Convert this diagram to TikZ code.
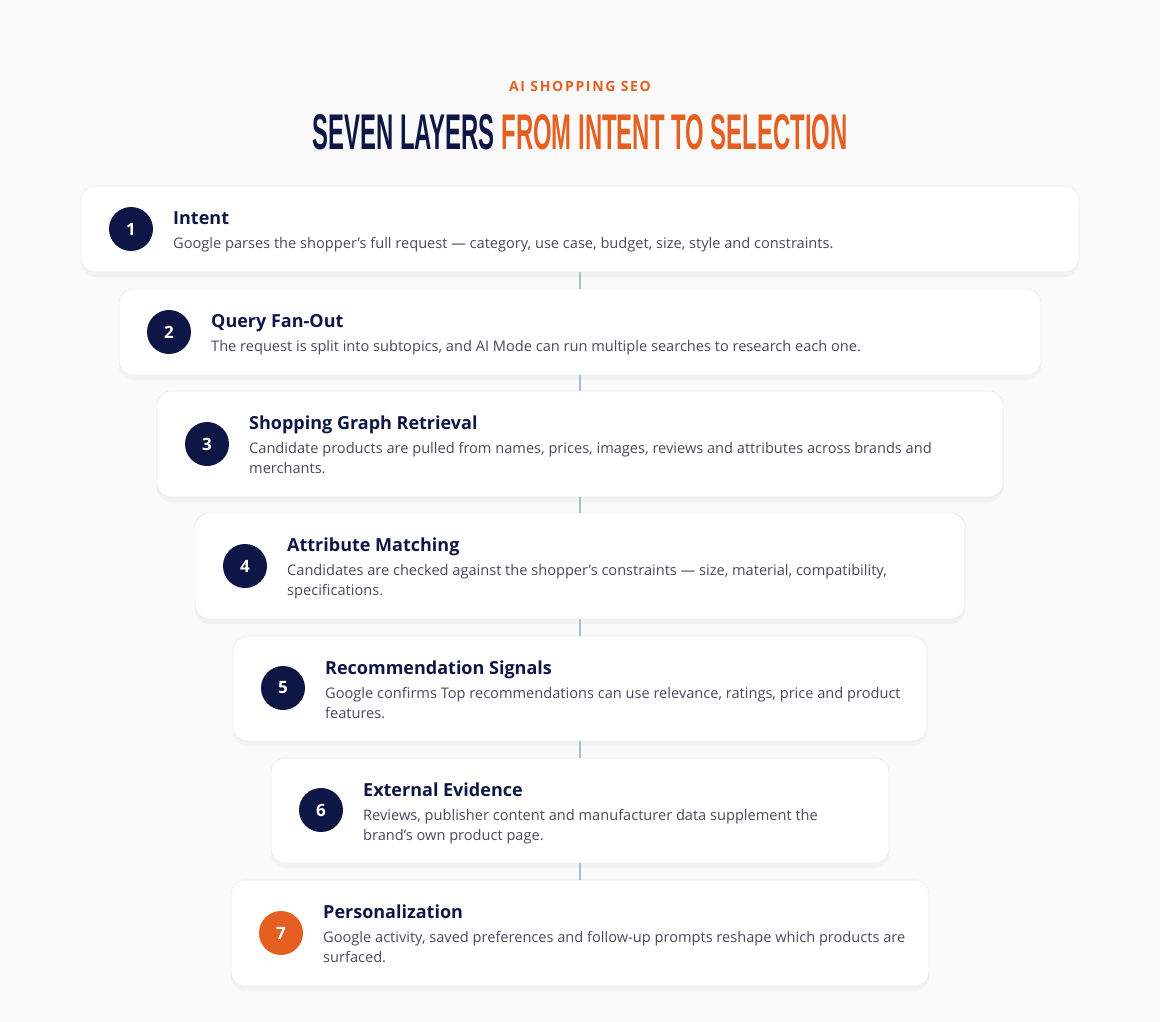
\documentclass[tikz,border=0pt]{standalone}
\usepackage{fontspec}
\setmainfont{Open Sans}
\newfontfamily\headfont{Liberation Sans}
\usepackage{graphicx}
\usetikzlibrary{positioning,shadows}
\definecolor{navy}{HTML}{0E1646}
\definecolor{rust}{HTML}{E55F21}
\definecolor{slate}{HTML}{464A5C}
\definecolor{linkblue}{HTML}{A8BCDA}
\definecolor{pagebg}{HTML}{FAFAFB}
\definecolor{rim}{HTML}{ECEDF1}

\begin{document}
\begin{tikzpicture}[x=1pt,y=-1pt]
\tikzstyle{card}=[rectangle, rounded corners=14pt, fill=white, draw=rim, line width=0.8pt, drop shadow={shadow xshift=0pt, shadow yshift=-5pt, opacity=0.05, fill=black!60}]
\tikzstyle{num}=[circle, minimum size=44pt, inner sep=0pt, fill=navy, text=white, font=\fontsize{17}{17}\selectfont\bfseries]
\tikzstyle{step title}=[anchor=base west, inner sep=0pt, text=navy, font=\fontsize{18}{18}\selectfont\bfseries]
\tikzstyle{desc}=[anchor=base west, inner sep=0pt, text=slate, align=left, font=\fontsize{14.6}{20}\selectfont]
\tikzstyle{connect}=[linkblue, line width=1.6pt]
\fill[pagebg] (0,0) rectangle (1160,1022);
\useasboundingbox (0,0) rectangle (1160,1022);
% heading
	\node[text=rust, font=\fontsize{14}{14}\selectfont\bfseries\addfontfeatures{LetterSpace=12}] (kicker) at (580,86) {AI SHOPPING SEO};
	\node[inner sep=0pt] (headline) at (580,132.5) {\resizebox{535pt}{35pt}{\headfont\bfseries\textcolor{navy}{SEVEN LAYERS} \textcolor{rust}{FROM INTENT TO SELECTION}}};
% cards
	\node[card, minimum width=998pt, minimum height=86pt] (card1) at (580,229) {};
	\node[card, minimum width=922pt, minimum height=86pt] (card2) at (580,332) {};
	\node[card, minimum width=846pt, minimum height=106pt] (card3) at (580,444) {};
	\node[card, minimum width=770pt, minimum height=106pt] (card4) at (580,566) {};
	\node[card, minimum width=694pt, minimum height=105pt] (card5) at (580,688.5) {};
	\node[card, minimum width=618pt, minimum height=105pt] (card6) at (580,810.5) {};
	\node[card, minimum width=698pt, minimum height=106pt] (card7) at (580,933) {};
% numbers
	\node[num] (n1) at (131,229) {1};
	\node[num] (n2) at (169,332) {2};
	\node[num] (n3) at (207,444) {3};
	\node[num] (n4) at (245,566) {4};
	\node[num] (n5) at (283,688) {5};
	\node[num] (n6) at (321,810) {6};
	\node[num, fill=rust] (n7) at (281,933) {7};
% texts (two-line descriptions sit on their last baseline)
	\node[step title] (t1) at (173,224) {Intent};
	\node[desc] (d1) at (173,248) {Google parses the shopper's full request --- category, use case, budget, size, style and constraints.};
	\node[step title] (t2) at (211,327) {Query Fan-Out};
	\node[desc] (d2) at (211,351) {The request is split into subtopics, and AI Mode can run multiple searches to research each one.};
	\node[step title] (t3) at (249,429) {Shopping Graph Retrieval};
	\node[desc] (d3) at (249,473) {Candidate products are pulled from names, prices, images, reviews and attributes across brands and\\merchants.};
	\node[step title] (t4) at (287,551) {Attribute Matching};
	\node[desc] (d4) at (287,595) {Candidates are checked against the shopper's constraints --- size, material, compatibility,\\specifications.};
	\node[step title] (t5) at (325,674) {Recommendation Signals};
	\node[desc] (d5) at (325,718) {Google confirms Top recommendations can use relevance, ratings, price and product\\features.};
	\node[step title] (t6) at (363,796) {External Evidence};
	\node[desc] (d6) at (363,840) {Reviews, publisher content and manufacturer data supplement the\\brand's own product page.};
	\node[step title] (t7) at (323,918) {Personalization};
	\node[desc] (d7) at (323,962) {Google activity, saved preferences and follow-up prompts reshape which products are\\surfaced.};
% links
	\path[connect]
		(card1.south) edge (card2.north)
		(card2.south) edge (card3.north)
		(card3.south) edge (card4.north)
		(card4.south) edge (card5.north)
		(card5.south) edge (card6.north)
		(card6.south) edge (card7.north);
\end{tikzpicture}
\end{document}
